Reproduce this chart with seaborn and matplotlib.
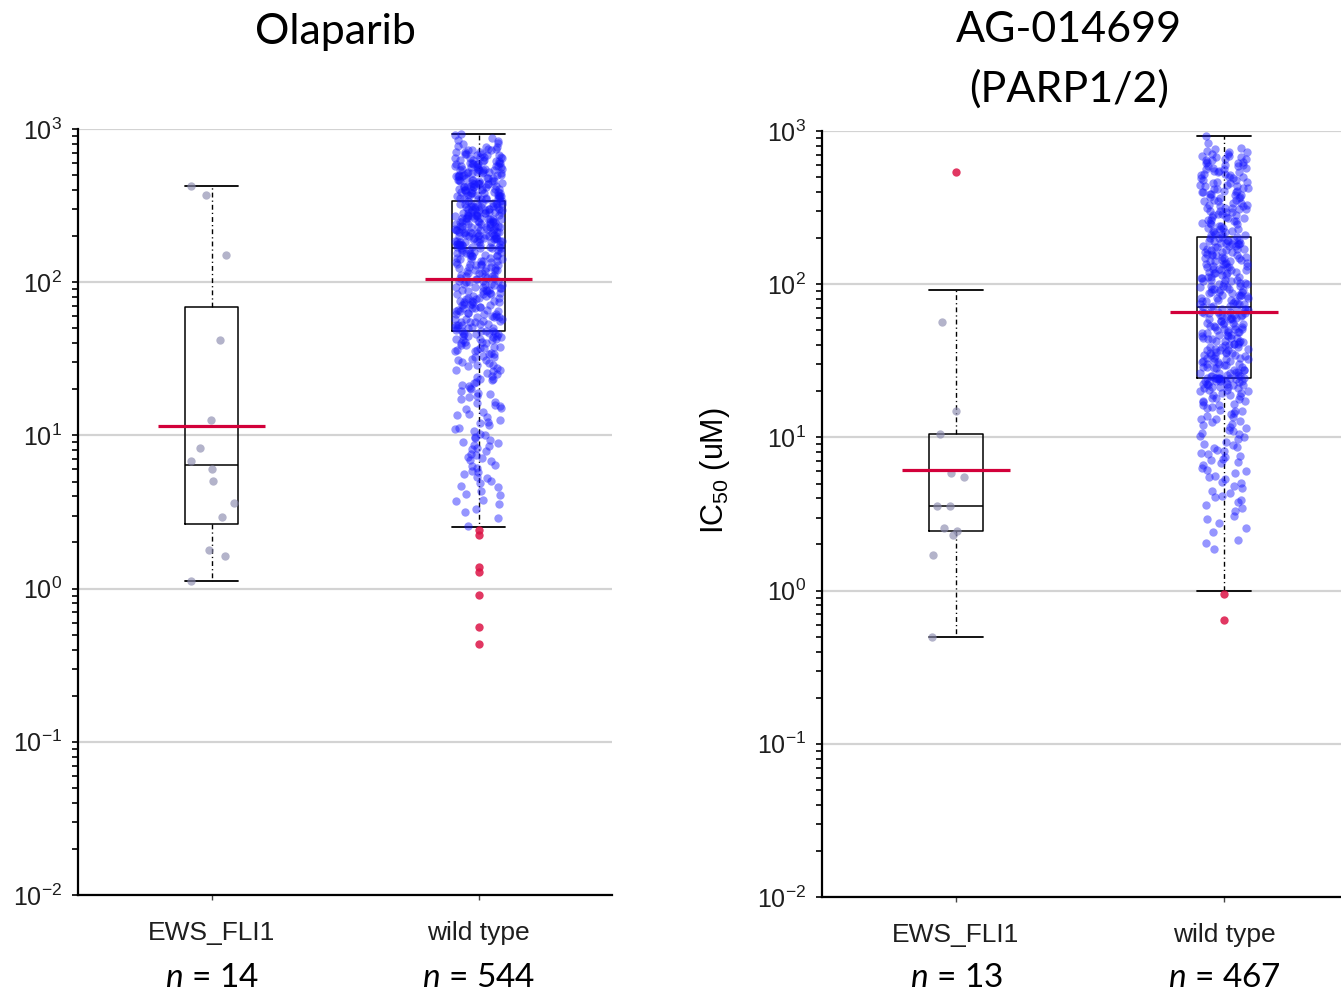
import numpy as np
import pandas as pd
import matplotlib
matplotlib.use("Agg")
import matplotlib.pyplot as plt
import seaborn as sns
from matplotlib.transforms import blended_transform_factory

# ---------------------------------------------------------------- data
groups = ["EWS_FLI1", "wild type"]
drug_titles = ["Olaparib", "AG-014699\n(PARP1/2)"]

# log10 IC50 (uM), one value per cell line
olaparib_ews = [0.05, 0.21, 0.25, 0.47, 0.56, 0.70, 0.78, 0.83, 0.92, 1.10,
                1.62, 2.18, 2.57, 2.63]

olaparib_wt = [
    -0.36, -0.25, -0.04, 0.11, 0.14, 0.35, 0.38,
    0.41, 0.46, 0.50, 0.52, 0.55, 0.57, 0.58, 0.61, 0.62, 0.64,
    0.66, 0.67, 0.69, 0.70, 0.72, 0.73, 0.75, 0.76, 0.77, 0.79,
    0.80, 0.81, 0.83, 0.84, 0.85, 0.86, 0.87, 0.88, 0.90, 0.91,
    0.92, 0.93, 0.94, 0.95, 0.96, 0.97, 0.98, 0.99,
    1.00, 1.01, 1.03, 1.04, 1.05, 1.07, 1.08, 1.09, 1.10, 1.12,
    1.13, 1.14, 1.15, 1.17, 1.18, 1.19, 1.20, 1.21, 1.22, 1.24,
    1.25, 1.26, 1.27, 1.28, 1.29, 1.30, 1.31, 1.32, 1.33, 1.34,
    1.35, 1.36, 1.37, 1.37, 1.38, 1.39, 1.40, 1.41, 1.42, 1.43,
    1.43, 1.44, 1.45, 1.46, 1.46, 1.47, 1.48, 1.49, 1.49, 1.50,
    1.51, 1.51, 1.52, 1.53, 1.53, 1.54, 1.55, 1.55, 1.56, 1.56,
    1.57, 1.57, 1.58, 1.58, 1.59, 1.59, 1.60, 1.60, 1.61, 1.61,
    1.62, 1.62, 1.63, 1.63, 1.63, 1.64, 1.64, 1.65, 1.65, 1.65,
    1.66, 1.66, 1.66, 1.67, 1.67, 1.67, 1.68, 1.68, 1.68, 1.68, 1.69,
    1.70, 1.70, 1.70, 1.71, 1.71, 1.72, 1.72, 1.72, 1.73, 1.73,
    1.74, 1.74, 1.74, 1.75, 1.75, 1.76, 1.76, 1.76, 1.77, 1.77, 1.77,
    1.78, 1.78, 1.79, 1.79, 1.79,
    1.80, 1.80, 1.81, 1.81, 1.81, 1.82, 1.82, 1.83, 1.83, 1.83, 1.84, 1.84,
    1.85, 1.85, 1.85, 1.86, 1.86, 1.87, 1.87, 1.87, 1.88, 1.88, 1.88, 1.89, 1.89,
    1.90, 1.90, 1.90, 1.91, 1.91, 1.92, 1.92, 1.92, 1.93, 1.93, 1.94, 1.94, 1.94,
    1.95, 1.95, 1.95, 1.96, 1.96, 1.97, 1.97, 1.97, 1.98, 1.98, 1.99, 1.99, 1.99,
    2.00, 2.00, 2.01, 2.01, 2.01, 2.02, 2.02, 2.03, 2.03, 2.03, 2.04, 2.04, 2.04,
    2.05, 2.05, 2.06, 2.06, 2.06, 2.07, 2.07, 2.08, 2.08, 2.08, 2.09, 2.09, 2.09,
    2.10, 2.10, 2.11, 2.11, 2.11, 2.12, 2.12, 2.12, 2.13, 2.13, 2.14, 2.14, 2.14,
    2.15, 2.15, 2.15, 2.16, 2.16, 2.17, 2.17, 2.17, 2.18, 2.18, 2.18, 2.19, 2.19, 2.19,
    2.20, 2.20, 2.20, 2.21, 2.21, 2.21,
    2.22, 2.22, 2.22, 2.22, 2.23, 2.23, 2.23, 2.23, 2.24, 2.24, 2.24, 2.24, 2.24,
    2.25, 2.25, 2.25, 2.25, 2.26, 2.26, 2.26, 2.26, 2.27, 2.27, 2.27, 2.27, 2.27,
    2.28, 2.28, 2.28, 2.28, 2.29, 2.29, 2.29, 2.29, 2.30, 2.30, 2.30, 2.30, 2.30,
    2.31, 2.31, 2.31, 2.31,
    2.32, 2.32, 2.32, 2.32, 2.33, 2.33, 2.33, 2.33, 2.33, 2.34, 2.34, 2.34, 2.34,
    2.35, 2.35, 2.35, 2.35, 2.36, 2.36, 2.36, 2.36, 2.36, 2.37, 2.37, 2.37, 2.37,
    2.38, 2.38, 2.38, 2.38, 2.39, 2.39, 2.39, 2.39, 2.39, 2.40, 2.40, 2.40, 2.40,
    2.41, 2.41, 2.41, 2.41,
    2.42, 2.42, 2.42, 2.42, 2.42, 2.43, 2.43, 2.43, 2.43, 2.44, 2.44, 2.44, 2.44,
    2.45, 2.45, 2.45, 2.45, 2.45, 2.46, 2.46, 2.46, 2.46, 2.47, 2.47, 2.47, 2.47,
    2.48, 2.48, 2.48, 2.48, 2.48, 2.49, 2.49, 2.49, 2.49, 2.50, 2.50, 2.50, 2.50,
    2.51, 2.51, 2.51, 2.51, 2.51,
    2.52, 2.52, 2.52, 2.53, 2.53, 2.53,
    2.54, 2.54, 2.54, 2.54, 2.55, 2.55, 2.55, 2.55, 2.56, 2.56, 2.56, 2.56,
    2.57, 2.57, 2.57, 2.57, 2.58, 2.58, 2.58, 2.58, 2.59, 2.59, 2.59, 2.59,
    2.60, 2.60, 2.60, 2.60, 2.61, 2.61, 2.61, 2.61, 2.62, 2.62, 2.62, 2.62,
    2.63, 2.63, 2.63, 2.63,
    2.64, 2.64, 2.64, 2.64, 2.65, 2.65, 2.65, 2.65, 2.66, 2.66, 2.66, 2.66,
    2.67, 2.67, 2.67, 2.67, 2.68, 2.68, 2.68, 2.68, 2.69, 2.69, 2.69, 2.69,
    2.70, 2.70, 2.70, 2.70, 2.71, 2.71, 2.71, 2.71, 2.72, 2.72, 2.72, 2.72,
    2.73, 2.73, 2.73, 2.73,
    2.74, 2.74, 2.74, 2.74, 2.75, 2.75, 2.75, 2.75, 2.76, 2.76, 2.76, 2.76,
    2.77, 2.77, 2.77, 2.77, 2.78, 2.78, 2.78, 2.78,
    2.79, 2.79, 2.79, 2.80, 2.80, 2.80, 2.81, 2.81, 2.81, 2.82, 2.82, 2.82,
    2.83, 2.83, 2.83,
    2.84, 2.84, 2.84, 2.85, 2.85, 2.85, 2.86, 2.86, 2.86, 2.87, 2.87,
    2.88, 2.88, 2.89, 2.90, 2.91, 2.92, 2.93, 2.94, 2.96, 2.97,
]

ag014699_ews = [-0.30, 0.23, 0.36, 0.39, 0.41, 0.55, 0.55, 0.74, 0.77, 1.02,
                1.17, 1.755, 2.73]

ag014699_wt = [
    -0.19, -0.02,
    0.27, 0.31, 0.33, 0.38, 0.41, 0.44, 0.47, 0.49, 0.52, 0.54, 0.56, 0.58, 0.59,
    0.61, 0.62, 0.64, 0.65, 0.67, 0.68, 0.70, 0.71, 0.73, 0.74,
    0.75, 0.77, 0.78, 0.79, 0.80, 0.82, 0.83, 0.84, 0.85, 0.86,
    0.87, 0.88, 0.89, 0.90, 0.91, 0.92, 0.93, 0.94, 0.95, 0.96, 0.97, 0.99,
    1.00, 1.01, 1.02, 1.03, 1.04, 1.05, 1.06, 1.07, 1.08, 1.09,
    1.10, 1.11, 1.12, 1.12, 1.13, 1.14, 1.15, 1.16, 1.17, 1.17,
    1.18, 1.19, 1.20, 1.21, 1.21, 1.22, 1.23, 1.24, 1.24, 1.25,
    1.26, 1.26, 1.27, 1.28, 1.28, 1.29, 1.29, 1.30, 1.30, 1.31,
    1.31, 1.32, 1.32, 1.33, 1.33, 1.33, 1.34, 1.34, 1.34, 1.35,
    1.35, 1.35, 1.36, 1.36, 1.36, 1.37, 1.37, 1.37, 1.37, 1.38,
    1.38, 1.38, 1.38, 1.39, 1.39, 1.39, 1.39, 1.39, 1.39, 1.39,
    1.40, 1.40, 1.40, 1.41, 1.41, 1.42, 1.42, 1.42, 1.43, 1.43, 1.44, 1.44, 1.44,
    1.45, 1.45, 1.46, 1.46, 1.46, 1.47, 1.47, 1.48, 1.48, 1.48, 1.49, 1.49,
    1.50, 1.50, 1.50, 1.51, 1.51, 1.52, 1.52, 1.52, 1.53, 1.53, 1.54, 1.54, 1.54,
    1.55, 1.55, 1.55, 1.56, 1.56, 1.57, 1.57, 1.57, 1.58, 1.58, 1.59, 1.59, 1.59,
    1.60, 1.60, 1.61, 1.61, 1.61, 1.62, 1.62, 1.63, 1.63, 1.63, 1.64, 1.64,
    1.65, 1.65, 1.65, 1.66, 1.66, 1.67, 1.67, 1.67, 1.68, 1.68, 1.69, 1.69, 1.69,
    1.70, 1.70, 1.71, 1.71, 1.71, 1.72, 1.72, 1.73, 1.73, 1.73, 1.74, 1.74,
    1.75, 1.75, 1.75, 1.76, 1.76, 1.77, 1.77, 1.77, 1.78, 1.78, 1.79, 1.79, 1.79,
    1.80, 1.80, 1.80, 1.81, 1.81, 1.81, 1.82, 1.82, 1.82, 1.83, 1.83, 1.83,
    1.84, 1.84, 1.85, 1.85,
    1.86, 1.86, 1.87, 1.87, 1.87, 1.88, 1.88, 1.89, 1.89, 1.89, 1.90, 1.90,
    1.91, 1.91, 1.91, 1.92, 1.92, 1.93, 1.93, 1.93, 1.94, 1.94, 1.95, 1.95, 1.95,
    1.96, 1.96, 1.97, 1.97, 1.97, 1.98, 1.98, 1.99, 1.99, 1.99, 2.00, 2.00,
    2.01, 2.01, 2.01, 2.02, 2.02, 2.03, 2.03, 2.03, 2.04, 2.04, 2.05, 2.05, 2.05,
    2.06, 2.06, 2.07, 2.07, 2.07, 2.08, 2.08, 2.09, 2.09, 2.09, 2.10, 2.10,
    2.11, 2.11, 2.11, 2.12, 2.12, 2.13, 2.13, 2.13, 2.14, 2.14, 2.15, 2.15, 2.15,
    2.16, 2.16, 2.17, 2.17, 2.17, 2.18, 2.18, 2.19, 2.19, 2.19, 2.20, 2.20,
    2.21, 2.21, 2.21, 2.22, 2.22, 2.23, 2.23, 2.23, 2.24, 2.24, 2.25, 2.25, 2.25,
    2.26, 2.26, 2.26, 2.27, 2.27, 2.27, 2.28, 2.28, 2.28, 2.29, 2.29, 2.29,
    2.30, 2.30, 2.31, 2.31,
    2.32, 2.32, 2.33, 2.33, 2.34, 2.34, 2.35, 2.35, 2.36, 2.36, 2.37, 2.37,
    2.38, 2.38, 2.39, 2.39, 2.40, 2.40, 2.41, 2.41, 2.42, 2.42, 2.43, 2.43,
    2.44, 2.44, 2.45, 2.45, 2.46, 2.46, 2.47, 2.47, 2.48, 2.48, 2.49, 2.49,
    2.50, 2.50, 2.50, 2.51, 2.51, 2.52, 2.52, 2.53, 2.53, 2.54, 2.54,
    2.55, 2.55, 2.56, 2.56, 2.57, 2.57, 2.58, 2.58, 2.59, 2.59,
    2.60, 2.60, 2.60, 2.61, 2.61, 2.62, 2.62, 2.63, 2.63, 2.64, 2.64,
    2.65, 2.65, 2.66, 2.66, 2.67, 2.67, 2.68, 2.68, 2.69, 2.69,
    2.70, 2.70, 2.71, 2.71, 2.72, 2.72, 2.73, 2.73, 2.74, 2.74,
    2.75, 2.75, 2.76, 2.76, 2.77, 2.77, 2.78, 2.78, 2.79, 2.79,
    2.80, 2.80, 2.81, 2.81, 2.82, 2.82, 2.83, 2.83, 2.84, 2.84,
    2.85, 2.85, 2.86, 2.86, 2.87, 2.88, 2.89, 2.92, 2.97,
]

# box summaries in log10 IC50 (uM), ordered [EWS_FLI1, wild type]
olaparib_q1 = [0.42, 1.68]
olaparib_median = [0.81, 2.22]
olaparib_q3 = [1.84, 2.53]
olaparib_whisker_low = [0.05, 0.40]
olaparib_whisker_high = [2.63, 2.97]
olaparib_geo_mean = [1.06, 2.02]

ag014699_q1 = [0.39, 1.39]
ag014699_median = [0.55, 1.85]
ag014699_q3 = [1.02, 2.31]
ag014699_whisker_low = [-0.30, 0.00]
ag014699_whisker_high = [1.965, 2.97]
ag014699_geo_mean = [0.79, 1.82]

# ---------------------------------------------------------------- style
sns.set_theme(style="ticks")
plt.rcParams["font.family"] = ["Liberation Sans", "DejaVu Sans"]
plt.rcParams["mathtext.fontset"] = "custom"
plt.rcParams["mathtext.rm"] = "Liberation Sans"
plt.rcParams["mathtext.it"] = "Lato:italic"
plt.rcParams["mathtext.default"] = "regular"

EWS_COLOR = "#8a8aae"
WT_COLOR = "#1414ff"
OUTLIER_COLOR = "#dc1446"
MEAN_COLOR = "#d2003a"
GRID_COLOR = "#d3d3d3"
LABEL_COLOR = "#1e1e1e"
TITLE_FONT = ["Lato", "DejaVu Sans"]
DOT_SIZE = 6.0

np.random.seed(7)

W, H = 1341, 991
fig = plt.figure(figsize=(W / 100, H / 100), dpi=100)
fig.patch.set_facecolor("white")

panel_boxes = [
    (78 / W, (H - 895) / H, 534 / W, 766 / H),
    (822 / W, (H - 897) / H, 536 / W, 766 / H),
]
# title anchor: horizontal centre and baseline of the last title line
title_pos = [(335 / W, (H - 44) / H), (1069 / W, (H - 102) / H)]

panels = [
    dict(ews=olaparib_ews, wt=olaparib_wt, q1=olaparib_q1, med=olaparib_median,
         q3=olaparib_q3, lo=olaparib_whisker_low, hi=olaparib_whisker_high,
         gm=olaparib_geo_mean),
    dict(ews=ag014699_ews, wt=ag014699_wt, q1=ag014699_q1, med=ag014699_median,
         q3=ag014699_q3, lo=ag014699_whisker_low, hi=ag014699_whisker_high,
         gm=ag014699_geo_mean),
]

for k, (p, box, title, tpos) in enumerate(zip(panels, panel_boxes, drug_titles, title_pos)):
    ax = fig.add_axes(box)
    ax.set_facecolor("white")

    df = pd.DataFrame({
        "group": [groups[0]] * len(p["ews"]) + [groups[1]] * len(p["wt"]),
        "log_ic50": np.r_[p["ews"], p["wt"]],
    })
    df["ic50"] = 10.0 ** df["log_ic50"]
    lo = df["group"].map(dict(zip(groups, p["lo"])))
    hi = df["group"].map(dict(zip(groups, p["hi"])))
    df["outlier"] = (df["log_ic50"] < lo - 1e-9) | (df["log_ic50"] > hi + 1e-9)

    ax.set_yscale("log")

    # box-and-whisker summaries
    stats = []
    for i in range(2):
        stats.append(dict(med=10 ** p["med"][i], q1=10 ** p["q1"][i], q3=10 ** p["q3"][i],
                          whislo=10 ** p["lo"][i], whishi=10 ** p["hi"][i], fliers=[]))
    ax.bxp(stats, positions=[0, 1], widths=0.2, capwidths=0.2, showfliers=False,
           manage_ticks=False, zorder=2,
           boxprops=dict(color="black", linewidth=1.1),
           medianprops=dict(color="black", linewidth=1.1),
           capprops=dict(color="black", linewidth=1.3),
           whiskerprops=dict(color="black", linewidth=1.0,
                             linestyle=(0, (3.5, 2.2, 0.9, 2.2))))

    # individual cell lines
    inliers = df[~df["outlier"]]
    for g, c, a in [(groups[0], EWS_COLOR, 0.65), (groups[1], WT_COLOR, 0.45)]:
        sns.stripplot(data=inliers[inliers["group"] == g], x="group", y="ic50",
                      order=groups, color=c, alpha=a, jitter=0.09, size=DOT_SIZE,
                      linewidth=0, ax=ax, zorder=3)
    sns.stripplot(data=df[df["outlier"]], x="group", y="ic50", order=groups,
                  color=OUTLIER_COLOR, alpha=0.85, jitter=False, size=DOT_SIZE,
                  linewidth=0, ax=ax, zorder=3)

    # geometric mean bars
    for i, gm in enumerate(p["gm"]):
        ax.hlines(10 ** gm, i - 0.2, i + 0.2, color=MEAN_COLOR, linewidth=2.3, zorder=4)

    ax.set_xlim(-0.5, 1.5)
    ax.set_ylim(1e-2, 1e3)
    ax.set_xlabel("")
    ax.set_ylabel("")
    ax.grid(False)
    ax.yaxis.grid(True, which="major", color=GRID_COLOR, linewidth=1.6)
    ax.set_axisbelow(True)

    for side in ("top", "right"):
        ax.spines[side].set_visible(False)
    for side in ("left", "bottom"):
        ax.spines[side].set_color("black")
        ax.spines[side].set_linewidth(1.6)

    ax.tick_params(axis="y", which="both", direction="out", length=4.5, width=1.2,
                   color="black", labelsize=18, pad=7, labelcolor=LABEL_COLOR)
    ax.tick_params(axis="x", direction="out", length=3.5, width=1.0, color="#444444",
                   labelsize=19, pad=15, labelcolor=LABEL_COLOR)

    # panel title (anchored on the baseline of its last line)
    fig.text(tpos[0], tpos[1], title, ha="center", va="baseline",
             fontfamily=TITLE_FONT, fontsize=31, linespacing=1.62, color="black")

    # group sizes
    trans = blended_transform_factory(ax.transData, fig.transFigure)
    for i, g in enumerate(groups):
        n = int((df["group"] == g).sum())
        ax.text(i, 4 / H, r"$\mathit{n}$ = %d" % n, transform=trans, ha="center",
                va="baseline", fontfamily=TITLE_FONT, fontsize=24, color="black")

    if k == 1:
        ax.set_ylabel("IC$_{50}$ (uM)", fontsize=22, color="black")
        ax.yaxis.set_label_coords(-0.168, 0.557)

fig.savefig("out.png", dpi=100, facecolor="white")
